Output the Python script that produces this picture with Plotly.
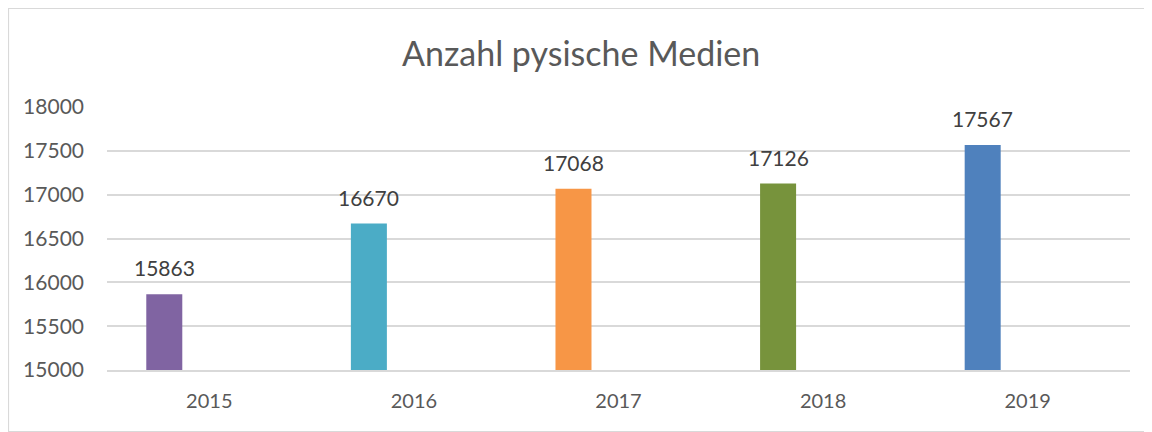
import plotly.graph_objects as go

years = ["2015", "2016", "2017", "2018", "2019"]
counts = [15863, 16670, 17068, 17126, 17567]
bar_colors = ["#8064A2", "#4BACC6", "#F79646", "#77933C", "#4F81BD"]
y_ticks = [15000, 15500, 16000, 16500, 17000, 17500, 18000]

FONT = "Lato"
GRID = "#D9D9D9"

fig = go.Figure()
fig.add_trace(go.Bar(
    x=years, y=counts,
    marker=dict(color=bar_colors, line=dict(width=0)),
    width=0.176, offset=-0.308,
    showlegend=False,
))

# data labels above the (left-shifted) bars; category index as x
for i, val in enumerate(counts):
    fig.add_annotation(
        x=i, y=val, text=str(val), showarrow=False,
        xshift=-45, yshift=12, yanchor="bottom",
        font=dict(family=FONT, size=21, color="#404040"),
    )

# page body has an 8px margin, so the figure is 8px smaller each way
fig.update_layout(
    width=1144, height=424,
    margin=dict(l=99, r=22, t=99, b=62),
    paper_bgcolor="white", plot_bgcolor="white",
    title=dict(
        text="Anzahl pysische Medien",
        x=0.501, xanchor="center", y=0.8915, yanchor="middle",
        font=dict(family=FONT, size=34, color="#595959"),
    ),
    font=dict(family=FONT, color="#595959"),
    shapes=[dict(
        type="rect", xref="paper", yref="paper",
        x0=-0.0963, x1=1.021, y0=-0.2338, y1=1.3745,
        line=dict(color=GRID, width=1.2), fillcolor="rgba(0,0,0,0)", layer="below",
    )],
)
fig.update_xaxes(
    type="category", range=[-0.5, len(years) - 0.5],
    showgrid=False, showline=True, linecolor=GRID, linewidth=1.5,
    ticks="", ticklabelstandoff=12,
    tickfont=dict(family=FONT, size=20, color="#595959"),
)
fig.update_yaxes(
    range=[15000, 18000], tickvals=y_ticks, ticktext=[str(v) for v in y_ticks],
    showgrid=True, gridcolor=GRID, gridwidth=1.5, zeroline=False, showline=False,
    ticks="", ticklabelstandoff=22,
    tickfont=dict(family=FONT, size=21, color="#595959"),
)

fig.write_html("out.html")
